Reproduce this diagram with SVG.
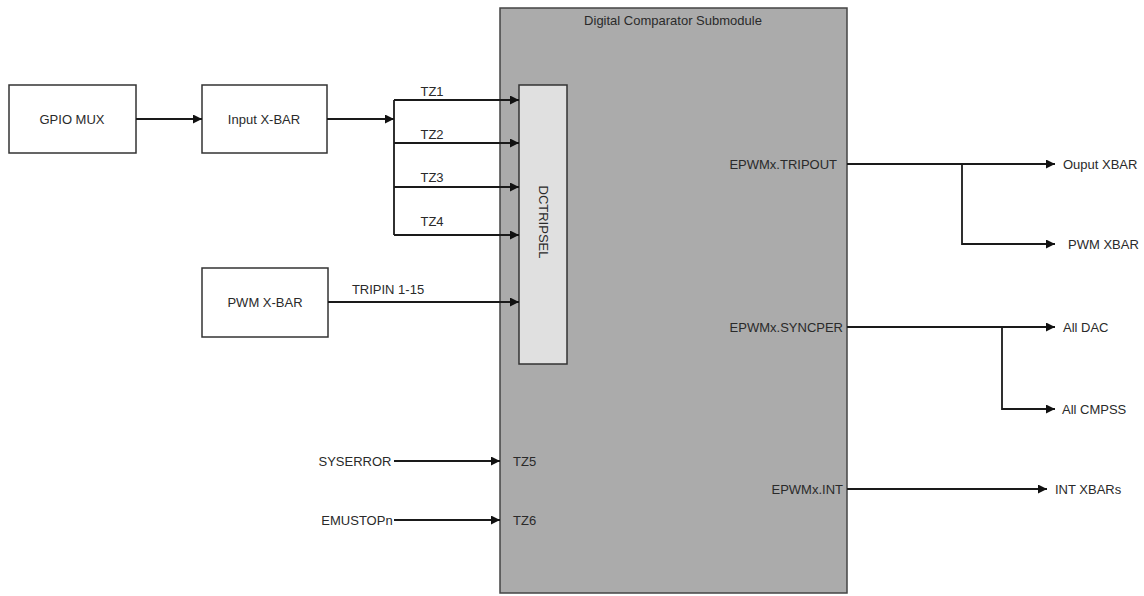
<svg xmlns="http://www.w3.org/2000/svg" width="1144" height="596" viewBox="0 0 1144 596">
<style>
text{font-family:"Liberation Sans",Arial,sans-serif;font-size:13px;fill:#2a2a2a;dominant-baseline:central}
.box{fill:#fff;stroke:#333;stroke-width:1.5}
.ln{fill:none;stroke:#1a1a1a;stroke-width:1.8}
.m{text-anchor:middle}
.e{text-anchor:end}
</style>
<defs>
<marker id="ar" viewBox="0 0 10 10" refX="10" refY="5" markerWidth="11" markerHeight="9" markerUnits="userSpaceOnUse" orient="auto">
<path d="M0,0L10,5L0,10z" fill="#111"/>
</marker>
</defs>
<g id="submodule">
<rect x="500" y="8" width="347" height="585" fill="#ababab" stroke="#444" stroke-width="1.5"/>
<text x="673" y="20" class="m">Digital Comparator Submodule</text>
<text x="513" y="461">TZ5</text>
<text x="513" y="520">TZ6</text>
<text x="837" y="164" class="e">EPWMx.TRIPOUT</text>
<text x="843" y="327" class="e">EPWMx.SYNCPER</text>
<text x="843" y="489" class="e">EPWMx.INT</text>
</g>
<g id="dctripsel">
<rect x="519" y="85" width="48" height="279" fill="#e0e0e0" stroke="#333" stroke-width="1.5"/>
<text x="543" y="222" class="m" transform="rotate(90 543 222)">DCTRIPSEL</text>
</g>
<g id="gpio-mux">
<rect x="9" y="85" width="127" height="68" class="box"/>
<text x="72" y="119" class="m">GPIO MUX</text>
</g>
<g id="input-xbar">
<rect x="202" y="85" width="125" height="68" class="box"/>
<text x="264" y="119" class="m">Input X-BAR</text>
</g>
<g id="pwm-xbar-in">
<rect x="202" y="268" width="126" height="69" class="box"/>
<text x="265" y="302" class="m">PWM X-BAR</text>
</g>
<g id="syserror"><text x="355" y="461" class="m">SYSERROR</text></g>
<g id="emustopn"><text x="357" y="520" class="m">EMUSTOPn</text></g>
<g id="ouput-xbar"><text x="1063" y="164">Ouput XBAR</text></g>
<g id="pwm-xbar-out"><text x="1068" y="244">PWM XBAR</text></g>
<g id="all-dac"><text x="1063" y="327">All DAC</text></g>
<g id="all-cmpss"><text x="1062" y="409">All CMPSS</text></g>
<g id="int-xbars"><text x="1055" y="489">INT XBARs</text></g>
<g id="connectors">
<line x1="136" y1="119" x2="202" y2="119" class="ln" marker-end="url(#ar)"/>
<line x1="327" y1="119" x2="394" y2="119" class="ln" marker-end="url(#ar)"/>
<line x1="394" y1="100" x2="394" y2="235" class="ln"/>
<line x1="394" y1="100" x2="519" y2="100" class="ln" marker-end="url(#ar)"/>
<line x1="394" y1="143" x2="519" y2="143" class="ln" marker-end="url(#ar)"/>
<line x1="394" y1="187" x2="519" y2="187" class="ln" marker-end="url(#ar)"/>
<line x1="394" y1="235" x2="519" y2="235" class="ln" marker-end="url(#ar)"/>
<text x="432" y="91" class="m">TZ1</text>
<text x="432" y="134" class="m">TZ2</text>
<text x="432" y="177" class="m">TZ3</text>
<text x="432" y="221" class="m">TZ4</text>
<line x1="328" y1="302" x2="519" y2="302" class="ln" marker-end="url(#ar)"/>
<text x="388" y="289" class="m">TRIPIN 1-15</text>
<line x1="394" y1="461" x2="500" y2="461" class="ln" marker-end="url(#ar)"/>
<line x1="394" y1="520" x2="500" y2="520" class="ln" marker-end="url(#ar)"/>
<line x1="847" y1="164" x2="1055" y2="164" class="ln" marker-end="url(#ar)"/>
<polyline points="962,164 962,244 1055,244" class="ln" marker-end="url(#ar)"/>
<line x1="847" y1="327" x2="1055" y2="327" class="ln" marker-end="url(#ar)"/>
<polyline points="1002,327 1002,409 1055,409" class="ln" marker-end="url(#ar)"/>
<line x1="847" y1="489" x2="1047" y2="489" class="ln" marker-end="url(#ar)"/>
</g>
</svg>
